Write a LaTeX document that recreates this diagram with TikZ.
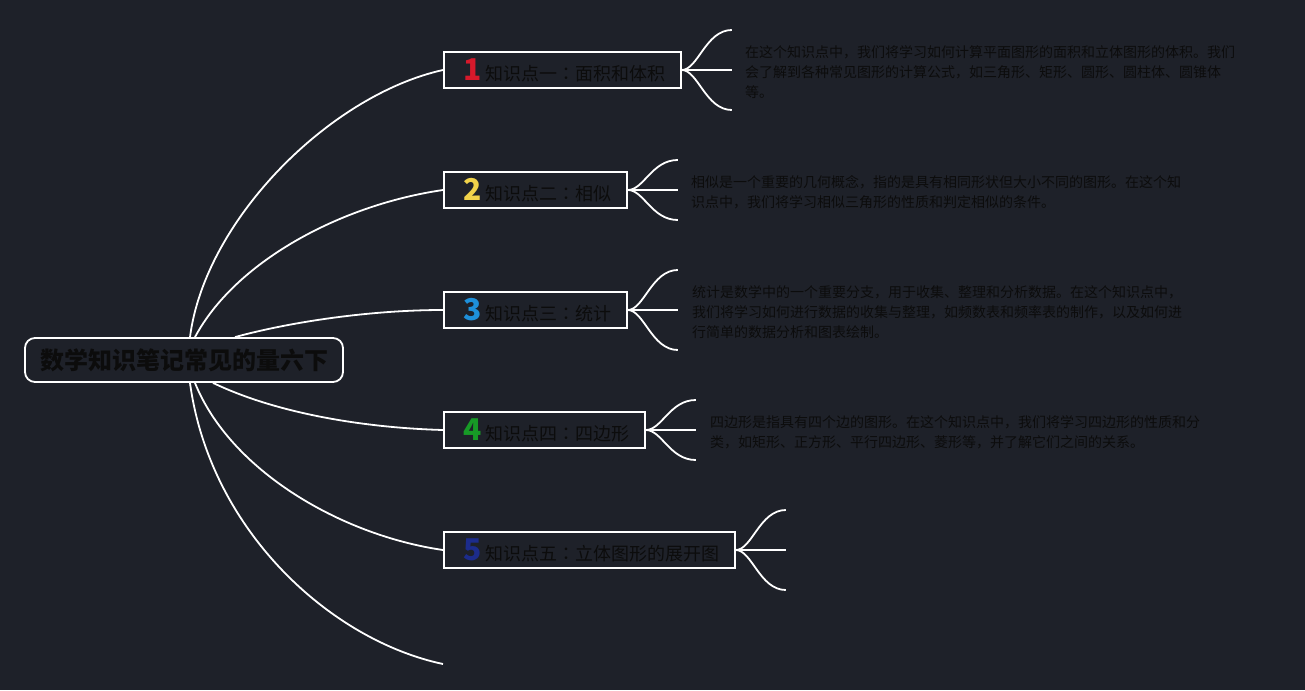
\documentclass[tikz,border=0pt]{standalone}
\usepackage{fontspec}
\setmainfont{Noto Sans CJK SC}
\newfontfamily\jpfont{Noto Sans CJK JP}
\usetikzlibrary{calc}
\definecolor{bg}{HTML}{1E2129}
\definecolor{ink}{HTML}{0C0C0C}
\definecolor{nred}{HTML}{D7192B}
\definecolor{nyel}{HTML}{F0D24A}
\definecolor{nblu}{HTML}{1E90DA}
\definecolor{ngrn}{HTML}{179A26}
\definecolor{ndbl}{HTML}{1C2C8C}
\newcommand\topicnum[2]{\makebox[27pt][c]{\color{#1}\fontsize{30}{30}\selectfont\bfseries #2}}
\newcommand\midcolon{{\jpfont ：}}
\begin{document}
\begin{tikzpicture}[x=1pt,y=-1pt,
 conn/.style={draw=white,line width=1.8pt},
 titlebox/.style={draw=white,line width=1.8pt,fill=bg,rounded corners=10pt,minimum width=318pt,minimum height=44pt,inner sep=0pt,text=ink,font=\fontsize{24}{28}\selectfont\bfseries},
 topicbox/.style={draw=white,line width=1.8pt,fill=bg,anchor=west,minimum height=36pt,inner xsep=15pt,inner ysep=0pt,text=ink,font=\fontsize{18}{22}\selectfont},
 desc/.style={anchor=west,inner sep=0pt,align=left,text=ink,font=\fontsize{14}{20}\selectfont}
]
\fill[bg] (0,0) rectangle (1305,690);
\useasboundingbox (0,0) rectangle (1305,690);

\node[titlebox] (title) at (184,360) {数学知识笔记常见的量六下};

\node[topicbox] (b1) at (443,70) {\topicnum{nred}{1}知识点一\midcolon 面积和体积};
\node[topicbox] (b2) at (443,190) {\topicnum{nyel}{2}知识点二\midcolon 相似};
\node[topicbox] (b3) at (443,310) {\topicnum{nblu}{3}知识点三\midcolon 统计};
\node[topicbox] (b4) at (443,430) {\topicnum{ngrn}{4}知识点四\midcolon 四边形};
\node[topicbox] (b5) at (443,550) {\topicnum{ndbl}{5}知识点五\midcolon 立体图形的展开图};
\coordinate (e6) at (443,664);

% main connectors
\draw[conn] ([xshift=6pt]title.north) .. controls (205,220) and (330,95) .. (b1.west);
\draw[conn] ([xshift=11pt]title.north) .. controls (235,262) and (340,205) .. (b2.west);
\draw[conn] ([xshift=51pt]title.north) .. controls (290,322) and (370,310) .. (b3.west);
\draw[conn] ([xshift=29pt]title.south) .. controls (280,415) and (370,428) .. (b4.west);
\draw[conn] ([xshift=11pt]title.south) .. controls (230,470) and (340,535) .. (b5.west);
\draw[conn] ([xshift=6pt]title.south) .. controls (210,530) and (330,640) .. (e6);

% brackets
\foreach \b/\h in {b1/40,b2/30,b3/40,b4/30,b5/40} {
 \draw[conn] (\b.east) .. controls +(16,0) and +(-26,0) .. +(50,-\h);
 \draw[conn] (\b.east) -- +(50,0);
 \draw[conn] (\b.east) .. controls +(16,0) and +(-26,0) .. +(50,\h);
}

\node[desc] (d1) at (745,72) {在这个知识点中，我们将学习如何计算平面图形的面积和立体图形的体积。我们\\会了解到各种常见图形的计算公式，如三角形、矩形、圆形、圆柱体、圆锥体\\等。};
\node[desc] (d2) at (691,192) {相似是一个重要的几何概念，指的是具有相同形状但大小不同的图形。在这个知\\识点中，我们将学习相似三角形的性质和判定相似的条件。};
\node[desc] (d3) at (692,312) {统计是数学中的一个重要分支，用于收集、整理和分析数据。在这个知识点中，\\我们将学习如何进行数据的收集与整理，如频数表和频率表的制作，以及如何进\\行简单的数据分析和图表绘制。};
\node[desc] (d4) at (710,432) {四边形是指具有四个边的图形。在这个知识点中，我们将学习四边形的性质和分\\类，如矩形、正方形、平行四边形、菱形等，并了解它们之间的关系。};
\end{tikzpicture}
\end{document}
